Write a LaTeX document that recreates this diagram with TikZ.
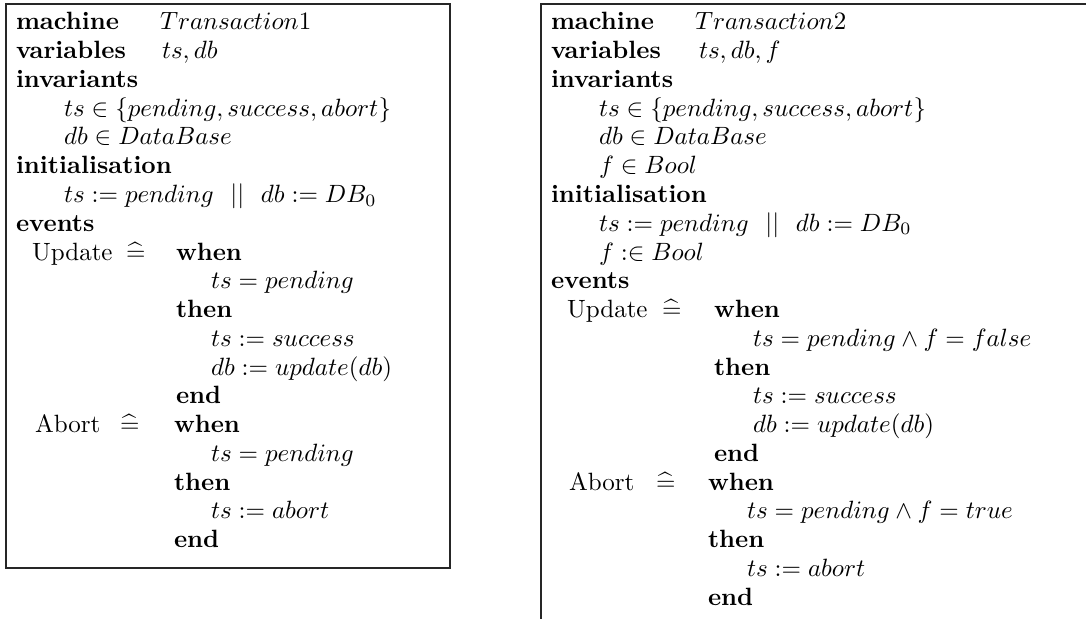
\documentclass[tikz,border=0pt]{standalone}
\usepackage{amsmath}
\begin{document}
\begin{tikzpicture}[x=0.4pt,y=-0.4pt,
  txt/.style={anchor=base west,inner sep=0pt,outer sep=0pt,font=\fontsize{10}{12}\selectfont},
  frame/.style={draw=black!85,line width=0.6pt}]
\useasboundingbox (0,0) rectangle (1086,619);
\clip (0,0) rectangle (1086,619);
\def\p{28.75}
% ---------- left machine ----------
\draw[frame] (6,4) rectangle (450,568);
\node[txt] (a0) at (16,{30+0*\p}) {\textbf{machine}};
\node[txt] (a0v) at (160,{30+0*\p}) {$Transaction1$};
\node[txt] (a1) at (16,{30+1*\p}) {\textbf{variables}};
\node[txt] (a1v) at (162,{30+1*\p}) {$ts, db$};
\node[txt] (a2) at (16,{30+2*\p}) {\textbf{invariants}};
\node[txt] (a3) at (64,{30+3*\p}) {$ts \in \{pending, success, abort\}$};
\node[txt] (a4) at (64,{30+4*\p}) {$db \in DataBase$};
\node[txt] (a5) at (16,{30+5*\p}) {\textbf{initialisation}};
\node[txt] (a6) at (64,{30+6*\p}) {$ts := pending\ \ ||\ \ db := DB_0$};
\node[txt] (a7) at (16,{30+7*\p}) {\textbf{events}};
\node[txt] (a8) at (32,{30+8*\p}) {Update};
\node[txt] (a8d) at (126,{30+8*\p}) {$\widehat{=}$};
\node[txt] (a8w) at (176,{30+8*\p}) {\textbf{when}};
\node[txt] (a9) at (211,{30+9*\p}) {$ts = pending$};
\node[txt] (a10) at (176,{30+10*\p}) {\textbf{then}};
\node[txt] (a11) at (211,{30+11*\p}) {$ts := success$};
\node[txt] (a12) at (211,{30+12*\p}) {$db := update(db)$};
\node[txt] (a13) at (176,{30+13*\p}) {\textbf{end}};
\node[txt] (a14) at (35,{30+14*\p}) {Abort};
\node[txt] (a14d) at (120,{30+14*\p}) {$\widehat{=}$};
\node[txt] (a14w) at (174,{30+14*\p}) {\textbf{when}};
\node[txt] (a15) at (211,{30+15*\p}) {$ts = pending$};
\node[txt] (a16) at (174,{30+16*\p}) {\textbf{then}};
\node[txt] (a17) at (211,{30+17*\p}) {$ts := abort$};
\node[txt] (a18) at (174,{30+18*\p}) {\textbf{end}};
% ---------- right machine ----------
\draw[frame] (541,660) -- (541,4) -- (1120,4);
\node[txt] (b0) at (551,{30+0*\p}) {\textbf{machine}};
\node[txt] (b0v) at (695,{30+0*\p}) {$Transaction2$};
\node[txt] (b1) at (551,{30+1*\p}) {\textbf{variables}};
\node[txt] (b1v) at (699,{30+1*\p}) {$ts, db, f$};
\node[txt] (b2) at (551,{30+2*\p}) {\textbf{invariants}};
\node[txt] (b3) at (599,{30+3*\p}) {$ts \in \{pending, success, abort\}$};
\node[txt] (b4) at (599,{30+4*\p}) {$db \in DataBase$};
\node[txt] (b5) at (599,{30+5*\p}) {$f \in Bool$};
\node[txt] (b6) at (551,{30+6*\p}) {\textbf{initialisation}};
\node[txt] (b7) at (599,{30+7*\p}) {$ts := pending\ \ ||\ \ db := DB_0$};
\node[txt] (b8) at (599,{30+8*\p}) {$f :\in Bool$};
\node[txt] (b9) at (551,{30+9*\p}) {\textbf{events}};
\node[txt] (b10) at (567,{30+10*\p}) {Update};
\node[txt] (b10d) at (662,{30+10*\p}) {$\widehat{=}$};
\node[txt] (b10w) at (714,{30+10*\p}) {\textbf{when}};
\node[txt] (b11) at (753,{30+11*\p}) {$ts = pending \wedge f = false$};
\node[txt] (b12) at (714,{30+12*\p}) {\textbf{then}};
\node[txt] (b13) at (753,{30+13*\p}) {$ts := success$};
\node[txt] (b14) at (753,{30+14*\p}) {$db := update(db)$};
\node[txt] (b15) at (714,{30+15*\p}) {\textbf{end}};
\node[txt] (b16) at (569,{30+16*\p}) {Abort};
\node[txt] (b16d) at (656,{30+16*\p}) {$\widehat{=}$};
\node[txt] (b16w) at (708,{30+16*\p}) {\textbf{when}};
\node[txt] (b17) at (747,{30+17*\p}) {$ts = pending \wedge f = true$};
\node[txt] (b18) at (708,{30+18*\p}) {\textbf{then}};
\node[txt] (b19) at (747,{30+19*\p}) {$ts := abort$};
\node[txt] (b20) at (708,{30+20*\p}) {\textbf{end}};
\end{tikzpicture}
\end{document}
